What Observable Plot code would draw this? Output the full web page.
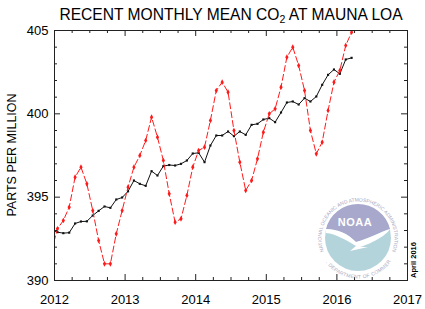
<!DOCTYPE html>
<html><head><meta charset="utf-8">
<script src="https://cdn.jsdelivr.net/npm/d3@7"></script>
<script src="https://cdn.jsdelivr.net/npm/@observablehq/plot@0.6"></script>
<style>body{margin:0;background:#fff}</style>
</head><body><div id="chart"></div>
<script>
const months = [
 "2011-12",
 "2012-01","2012-02","2012-03","2012-04","2012-05","2012-06","2012-07","2012-08","2012-09","2012-10","2012-11","2012-12",
 "2013-01","2013-02","2013-03","2013-04","2013-05","2013-06","2013-07","2013-08","2013-09","2013-10","2013-11","2013-12",
 "2014-01","2014-02","2014-03","2014-04","2014-05","2014-06","2014-07","2014-08","2014-09","2014-10","2014-11","2014-12",
 "2015-01","2015-02","2015-03","2015-04","2015-05","2015-06","2015-07","2015-08","2015-09","2015-10","2015-11","2015-12",
 "2016-01","2016-02","2016-03"
];
const monthlyMean = [
 391.8,
 393.1, 393.6, 394.4, 396.2, 396.8, 395.8, 394.2, 392.4, 391.0, 391.0, 392.8, 394.2,
 395.6, 396.8, 397.5, 398.4, 399.8, 398.6, 397.2, 395.2, 393.5, 393.7, 395.1, 396.8,
 397.8, 398.0, 399.6, 401.4, 401.9, 401.3, 399.0, 397.1, 395.4, 396.0, 397.3, 398.9,
 400.0, 400.3, 401.6, 403.4, 404.0, 402.9, 401.4, 399.0, 397.6, 398.3, 400.2, 401.9,
 402.6, 404.1, 404.9
];
const trend = [
 393.0,
 392.9, 392.84, 392.87, 393.42, 393.54, 393.55, 393.9, 394.18, 394.44, 394.36, 394.86, 394.98,
 395.35, 396.0, 395.8, 395.68, 396.56, 396.3, 396.86, 396.93, 396.9, 397.0, 397.2, 397.62,
 397.66, 397.1, 398.1, 398.7, 398.7, 398.94, 398.66, 398.94, 398.74, 399.34, 399.4, 399.66,
 399.74, 399.5, 400.08, 400.68, 400.74, 400.56, 400.94, 400.74, 401.04, 401.74, 402.34, 402.66,
 402.4, 403.26, 403.36
];
const xMajorTicks = [2012, 2013, 2014, 2015, 2016, 2017];
const xMinorTicks = [2012.25,2012.5,2012.75,2013.25,2013.5,2013.75,2014.25,2014.5,2014.75,2015.25,2015.5,2015.75,2016.25,2016.5,2016.75];
const yMajorTicks = [390, 395, 400, 405];
const yMinorTicks = [391,392,393,394,396,397,398,399,401,402,403,404];

const data = months.map((m, i) => {
  const [yy, mm] = m.split("-").map(Number);
  return {t: yy + (mm - 0.5) / 12, mean: monthlyMean[i], trend: trend[i]};
});

const W = 425, H = 309, mL = 54, mR = 18, mT = 30, mB = 29;
const pw = W - mL - mR, ph = H - mT - mB;
const major = 6, minor = 3;
const tickStyle = {stroke: "#222", strokeWidth: 1};

const svg = Plot.plot({
  width: W, height: H,
  marginLeft: mL, marginRight: mR, marginTop: mT, marginBottom: mB,
  style: {fontFamily: "'Liberation Sans', Arial, sans-serif", fontSize: "13px", background: "white", color: "black"},
  x: {domain: [2012, 2017]},
  y: {domain: [390, 405]},
  marks: [
    Plot.line(data, {x: "t", y: "trend", stroke: "#111", strokeWidth: 1, clip: true}),
    Plot.dot(data, {x: "t", y: "trend", symbol: "square", r: 1.2, fill: "#111", clip: true}),
    Plot.line(data, {x: "t", y: "mean", stroke: "#ff1a1a", strokeWidth: 1, strokeDasharray: "6,3", clip: true}),
    Plot.dot(data, {x: "t", y: "mean", symbol: "diamond", r: 1.7, fill: "#ff1a1a", clip: true}),
    Plot.frame({stroke: "#222"}),
    // inward ticks
    Plot.tickX(xMajorTicks, {x: d => d, insetTop: ph - major, ...tickStyle}),
    Plot.tickX(xMinorTicks, {x: d => d, insetTop: ph - minor, ...tickStyle}),
    Plot.tickX(xMajorTicks, {x: d => d, insetBottom: ph - major, ...tickStyle}),
    Plot.tickX(xMinorTicks, {x: d => d, insetBottom: ph - minor, ...tickStyle}),
    Plot.tickY(yMajorTicks, {y: d => d, insetRight: pw - major, ...tickStyle}),
    Plot.tickY(yMinorTicks, {y: d => d, insetRight: pw - minor, ...tickStyle}),
    Plot.tickY(yMajorTicks, {y: d => d, insetLeft: pw - major, ...tickStyle}),
    Plot.tickY(yMinorTicks, {y: d => d, insetLeft: pw - minor, ...tickStyle}),
    Plot.axisX(xMajorTicks, {anchor: "bottom", tickSize: 0, tickPadding: 14, tickFormat: d => String(d), label: null, fontSize: 13}),
    Plot.axisY(yMajorTicks, {anchor: "left", tickSize: 0, tickPadding: 6, tickFormat: d => String(d), label: null, fontSize: 13})
  ]
});
document.getElementById("chart").appendChild(svg);

const s = d3.select(svg);
// Title
const title = s.append("text").attr("x", 231).attr("y", 20).attr("text-anchor", "middle")
  .attr("font-size", 15.6).attr("fill", "#000");
title.append("tspan").text("RECENT MONTHLY MEAN CO");
title.append("tspan").attr("font-size", 10.5).attr("dy", 3).text("2");
title.append("tspan").attr("dy", -3).text(" AT MAUNA LOA");
// Y label
s.append("text").attr("transform", "translate(13,155) rotate(-90)").attr("text-anchor", "middle")
  .attr("dominant-baseline", "middle").attr("font-size", 12.5).text("PARTS PER MILLION");
// Date stamp
s.append("text").attr("transform", "translate(416,260) rotate(-90)").attr("text-anchor", "middle")
  .attr("font-size", 7.5).attr("font-weight", "bold").text("April 2016");

// NOAA logo
const cx = 358, cy = 238, r = 33;
const g = s.append("g");
const defs = s.append("defs");
const rt = 36.5, a0 = Math.PI / 6;
defs.append("path").attr("id", "ringTop")
  .attr("d", `M${cx - rt * Math.cos(a0)},${cy + rt * Math.sin(a0)} A${rt},${rt} 0 1,1 ${cx + rt * Math.cos(a0)},${cy + rt * Math.sin(a0)}`);
const rb = 40.5;
defs.append("path").attr("id", "ringBot")
  .attr("d", `M${cx - rb * 0.8},${cy + rb * 0.6} A${rb},${rb} 0 0,0 ${cx + rb * 0.8},${cy + rb * 0.6}`);
g.append("circle").attr("cx", cx).attr("cy", cy).attr("r", r).attr("fill", "#b4d4dc");
g.append("path").attr("fill", "#a8a8cc")
  .attr("d", `M${cx - 32},${cy - 9} A${r},${r} 0 0,1 ${cx + 32},${cy - 9}
     C${cx + 22},${cy - 6} ${cx + 12},${cy} ${cx - 2},${cy + 4}
     C${cx - 10},${cy - 4} ${cx - 20},${cy - 9} ${cx - 32},${cy - 9} Z`);
g.append("path").attr("fill", "white")
  .attr("d", `M${cx - 32},${cy - 9} C${cx - 20},${cy - 9} ${cx - 10},${cy - 4} ${cx - 2},${cy + 4}
     C${cx + 12},${cy} ${cx + 22},${cy - 6} ${cx + 32},${cy - 9}
     C${cx + 28},${cy - 2} ${cx + 12},${cy + 6} ${cx + 2},${cy + 9}
     L${cx + 10},${cy + 9} L${cx - 8},${cy + 13} L${cx - 2},${cy + 8}
     C${cx - 12},${cy + 2} ${cx - 22},${cy - 4} ${cx - 32},${cy - 5} Z`);
g.append("text").attr("x", cx - 3).attr("y", cy - 12).attr("text-anchor", "middle")
  .attr("font-size", 11).attr("font-weight", "bold").attr("fill", "white").attr("letter-spacing", 0.5).text("NOAA");
g.append("text").attr("font-size", 5).attr("fill", "#a9a9c2")
  .append("textPath").attr("href", "#ringTop").attr("startOffset", "50%").attr("text-anchor", "middle")
  .text("NATIONAL OCEANIC AND ATMOSPHERIC ADMINISTRATION");
g.append("text").attr("font-size", 5).attr("fill", "#a9a9c2").attr("letter-spacing", 0.3)
  .append("textPath").attr("href", "#ringBot").attr("startOffset", "50%").attr("text-anchor", "middle")
  .text("U.S. DEPARTMENT OF COMMERCE");
</script>
</body></html>
